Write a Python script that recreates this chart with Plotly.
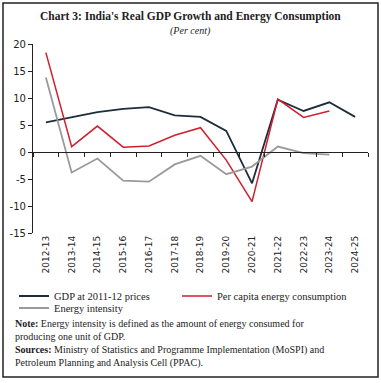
import plotly.graph_objects as go

years = ["2012-13", "2013-14", "2014-15", "2015-16", "2016-17", "2017-18", "2018-19",
         "2019-20", "2020-21", "2021-22", "2022-23", "2023-24", "2024-25"]
gdp = [5.5, 6.4, 7.4, 8.0, 8.3, 6.8, 6.5, 3.9, -5.8, 9.7, 7.6, 9.2, 6.5]
per_capita_energy = [18.4, 1.0, 4.8, 0.9, 1.1, 3.1, 4.5, -1.5, -9.2, 9.8, 6.4, 7.6, None]
energy_intensity = [13.8, -3.8, -1.2, -5.3, -5.5, -2.3, -0.7, -4.1, -2.7, 1.0, -0.2, -0.5, None]
y_ticks = [20, 15, 10, 5, 0, -5, -10, -15]
y_ticktext = ["20", "15", "10", "5", "0", "-5", "-10", "-15"]

xi = list(range(len(years)))
SERIF = "Liberation Serif"
SANS = "DejaVu Sans"

fig = go.Figure()
fig.add_trace(go.Scatter(x=xi, y=gdp, mode="lines", name="GDP at 2011-12 prices",
                         line=dict(color="#1e2d3b", width=1.8), legend="legend"))
fig.add_trace(go.Scatter(x=xi, y=per_capita_energy, mode="lines", name="Per capita energy consumption",
                         line=dict(color="#d01f2e", width=1.5), legend="legend3"))
fig.add_trace(go.Scatter(x=xi, y=energy_intensity, mode="lines", name="Energy intensity",
                         line=dict(color="#9a9a9a", width=1.8), legend="legend2"))
# invisible trace carrying the crossing axis with boundary ticks
fig.add_trace(go.Scatter(x=[-0.5, 12.5], y=[0, 0], mode="lines", xaxis="x2",
                         line=dict(color="rgba(0,0,0,0)"), showlegend=False, hoverinfo="skip"))

L, R, T, B = 33, 13, 44, 150
W, H = 381, 383
pw, ph = W - L - R, H - T - B

def px(x):
    return (x - L) / pw

def py(y):
    return (H - B - y) / ph

legend_common = dict(orientation="h", xanchor="left", yanchor="middle",
                     font=dict(family=SERIF, size=10.5, color="#222"),
                     itemwidth=30, bgcolor="rgba(0,0,0,0)")

fig.update_layout(
    width=W, height=H,
    margin=dict(l=L, r=R, t=T, b=B, autoexpand=False),
    plot_bgcolor="white", paper_bgcolor="white",
    showlegend=True,
    legend=dict(x=px(14), y=py(296), **legend_common),
    legend3=dict(x=px(177), y=py(296), **legend_common),
    legend2=dict(x=px(14), y=py(308), **legend_common),
    xaxis=dict(range=[-0.5, 12.5], tickvals=xi, ticktext=years, tickangle=-90,
               showline=False, ticks="", showgrid=False, zeroline=False,
               tickfont=dict(family=SANS, size=9, color="#222")),
    xaxis2=dict(range=[-0.5, 12.5], overlaying="x", anchor="free", position=15/35,
                side="bottom", showline=True, linecolor="#222", linewidth=1.2,
                ticks="outside", ticklen=4, tickcolor="#222", tickwidth=1.2,
                tickvals=[i - 0.5 for i in range(14)], showticklabels=False,
                showgrid=False, zeroline=False),
    yaxis=dict(range=[-15, 20], tickvals=y_ticks, ticktext=y_ticktext,
               showline=True, linecolor="#222", linewidth=1.2, ticks="outside",
               ticklen=4, tickcolor="#222", showgrid=False, zeroline=False,
               tickfont=dict(family=SANS, size=10, color="#222")),
    shapes=[dict(type="rect", xref="paper", yref="paper",
                 x0=px(3), x1=px(378), y0=py(377), y1=py(3),
                 line=dict(color="#222", width=1.5), fillcolor="rgba(0,0,0,0)")],
)

anns = [
    dict(text="<b>Chart 3: India's Real GDP Growth and Energy Consumption</b>",
         x=px(190), y=py(16), size=11.5, anchor="center"),
    dict(text="<i>(Per cent)</i>", x=px(190), y=py(31), size=10, anchor="center"),
    dict(text="<b>Note:</b> Energy intensity is defined as the amount of energy consumed for",
         x=px(13), y=py(323), size=10, anchor="left"),
    dict(text="producing one unit of GDP.", x=px(13), y=py(336), size=10, anchor="left"),
    dict(text="<b>Sources:</b> Ministry of Statistics and Programme Implementation (MoSPI) and",
         x=px(13), y=py(350), size=10, anchor="left"),
    dict(text="Petroleum Planning and Analysis Cell (PPAC).", x=px(13), y=py(363), size=10,
         anchor="left"),
]
for a in anns:
    fig.add_annotation(text=a["text"], x=a["x"], y=a["y"], xref="paper", yref="paper",
                       xanchor=a["anchor"], yanchor="middle", showarrow=False,
                       font=dict(family=SERIF, size=a["size"], color="#222"))

fig.write_html("out.html", config={"displayModeBar": False},
               post_script="document.body.style.margin='0';document.body.style.overflow='hidden';")
